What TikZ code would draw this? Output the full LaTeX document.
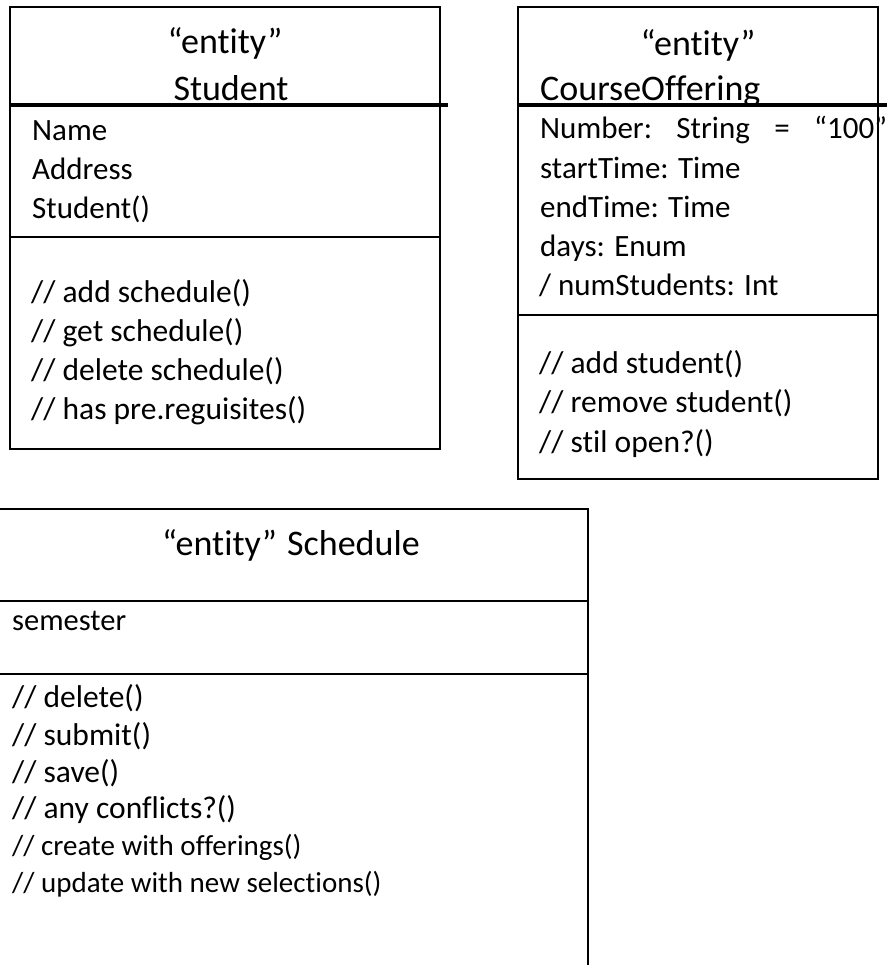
\documentclass[tikz,border=0pt]{standalone}
\usepackage{fontspec}
\setmainfont{Carlito}[Ligatures=NoCommon]
\begin{document}
\begin{tikzpicture}[x=1pt,y=-1pt,
  frame/.style={line width=2pt,black},
  sep/.style={line width=2pt,black},
  hsep/.style={line width=3.2pt,black},
  hdr/.style={font=\fontsize{36}{40}\selectfont,anchor=base,inner sep=0pt},
  attr/.style={font=\fontsize{31}{36}\selectfont,anchor=base west,inner sep=0pt},
  meth/.style={font=\fontsize{31.5}{36}\selectfont,anchor=base west,inner sep=0pt},
  smeth/.style={font=\fontsize{31.5}{36}\selectfont,anchor=base west,inner sep=0pt},
  tmeth/.style={font=\fontsize{29}{33}\selectfont,anchor=base west,inner sep=0pt}]
\useasboundingbox[fill=white] (0,0) rectangle (887,969);

% ---------- Student ----------
\draw[frame] (10,7) rectangle (440,449);
\draw[hsep] (10,105) -- (448,105);
\draw[sep] (10,237) -- (440,237);
\node[hdr] (st1) at (225,53) {“entity”};
\node[hdr] (st2) at (231,100) {Student};
\node[attr] (sa1) at (32,140) {Name};
\node[attr] (sa2) at (32,179) {Address};
\node[attr] (sa3) at (32,218) {Student()};
\node[meth] (sm1) at (31,302) {// add schedule()};
\node[meth] (sm2) at (31,341) {// get schedule()};
\node[meth] (sm3) at (31,380) {// delete schedule()};
\node[meth] (sm4) at (31,419) {// has pre.reguisites()};

% ---------- CourseOffering ----------
\draw[frame] (518,7) rectangle (878,479);
\draw[hsep] (518,105) -- (887,105);
\draw[sep] (518,315) -- (878,315);
\node[hdr] (co1) at (698,55) {“entity”};
\node[hdr,anchor=base west] (co2) at (540,100) {CourseOffering};
\node[attr] (ca1) at (540,138) {\makebox[347pt][l]{Number:\hfill String\hfill =\hfill “100”}};
\node[attr] (ca2) at (540,178) {startTime: Time};
\node[attr] (ca3) at (540,217) {endTime: Time};
\node[attr] (ca4) at (540,256) {days: Enum};
\node[attr] (ca5) at (539,295) {/ numStudents: Int};
\node[meth] (cm1) at (539,373) {// add student()};
\node[meth] (cm2) at (539,412) {// remove student()};
\node[meth] (cm3) at (539,452) {// stil open?()};

% ---------- Schedule ----------
\draw[frame] (0,509) -- (588,509) -- (588,965);
\draw[sep] (0,601) -- (588,601);
\draw[sep] (0,674) -- (588,674);
\node[hdr] (sc1) at (291,555) {“entity”\hspace{2pt} Schedule};
\node[attr,font=\fontsize{30.5}{35}\selectfont] (sa) at (12,630) {semester};
\node[smeth] (s1) at (12,707) {// delete()};
\node[smeth] (s2) at (12,745) {// submit()};
\node[smeth] (s3) at (12,782) {// save()};
\node[smeth] (s4) at (12,818) {// any conflicts?()};
\node[tmeth] (s5) at (12,855) {// create with offerings()};
\node[tmeth] (s6) at (12,892) {// update with new selections()};
\end{tikzpicture}
\end{document}
